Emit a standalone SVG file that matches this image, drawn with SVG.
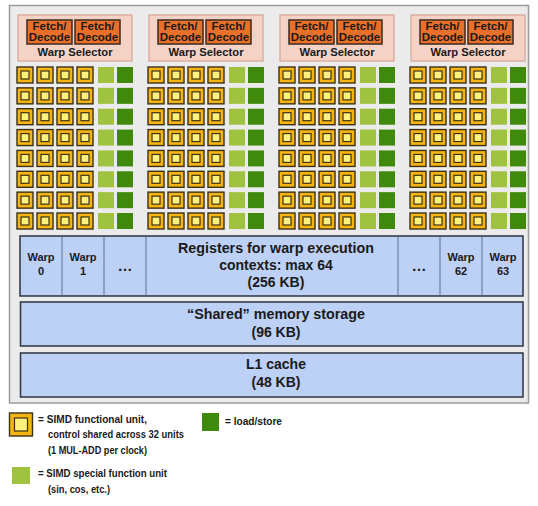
<svg xmlns="http://www.w3.org/2000/svg" xmlns:xlink="http://www.w3.org/1999/xlink" width="538" height="506" viewBox="0 0 538 506">
<style>
text{font-family:"Liberation Sans",Arial,sans-serif;font-weight:bold;fill:#1a1a1a}
.outer{fill:#ebebeb;stroke:#9c9c9c;stroke-width:1.5}
.ws{fill:#f4d2c6;stroke:#d9a393;stroke-width:1.2}
.fd{fill:#e8702a;stroke:#3a2a1f;stroke-width:1.5}
.alu-o{fill:#f5b412;stroke:#3b3118;stroke-width:1.4}
.alu-i{fill:#fff27c;stroke:#3b3118;stroke-width:1.2}
.sfu{fill:#9fc341}
.ldst{fill:#3f890d}
.blue{fill:#bdd0f5;stroke:#2e333c;stroke-width:1.5}
.div{stroke:#7d91b4;stroke-width:1.5}
.c{text-anchor:middle}
</style>
<defs>
<g id="alu"><rect class="alu-o" x="0" y="0" width="16" height="16"/><rect class="alu-i" x="4" y="4" width="8" height="8"/></g>
<g id="row">
<use xlink:href="#alu" x="0"/><use xlink:href="#alu" x="20"/><use xlink:href="#alu" x="40"/><use xlink:href="#alu" x="60"/>
<rect class="sfu" x="81" y="0" width="16" height="16"/>
<rect class="ldst" x="100" y="0" width="16" height="16"/>
</g>
<g id="grid">
<use xlink:href="#row" y="0"/><use xlink:href="#row" y="20.86"/><use xlink:href="#row" y="41.71"/><use xlink:href="#row" y="62.57"/>
<use xlink:href="#row" y="83.43"/><use xlink:href="#row" y="104.29"/><use xlink:href="#row" y="125.14"/><use xlink:href="#row" y="146"/>
</g>
<g id="selector">
<rect class="ws" x="0" y="0" width="114" height="46"/>
<rect class="fd" x="9" y="5" width="45" height="24"/>
<rect class="fd" x="57" y="5" width="45" height="24"/>
<text class="c" x="31.5" y="14.5" font-size="11.5">Fetch/</text>
<text class="c" x="31.5" y="26" font-size="11.5">Decode</text>
<text class="c" x="79.5" y="14.5" font-size="11.5">Fetch/</text>
<text class="c" x="79.5" y="26" font-size="11.5">Decode</text>
<text class="c" x="57" y="40.5" font-size="11.5" textLength="75" lengthAdjust="spacingAndGlyphs">Warp Selector</text>
</g>
</defs>

<g id="sm-outline"><rect class="outer" x="9.5" y="5.5" width="519" height="397.5"/></g>

<g id="core-0"><use xlink:href="#selector" x="18" y="15"/><use xlink:href="#grid" x="17" y="67"/></g>
<g id="core-1"><use xlink:href="#selector" x="149" y="15"/><use xlink:href="#grid" x="148" y="67"/></g>
<g id="core-2"><use xlink:href="#selector" x="280" y="15"/><use xlink:href="#grid" x="279" y="67"/></g>
<g id="core-3"><use xlink:href="#selector" x="411" y="15"/><use xlink:href="#grid" x="410" y="67"/></g>

<g id="registers">
<rect class="blue" x="20" y="236" width="503" height="60"/>
<line class="div" x1="62" y1="237" x2="62" y2="295"/>
<line class="div" x1="104" y1="237" x2="104" y2="295"/>
<line class="div" x1="146" y1="237" x2="146" y2="295"/>
<line class="div" x1="398" y1="237" x2="398" y2="295"/>
<line class="div" x1="440" y1="237" x2="440" y2="295"/>
<line class="div" x1="482" y1="237" x2="482" y2="295"/>
<text class="c" x="41" y="261" font-size="11">Warp</text>
<text class="c" x="41" y="275" font-size="11">0</text>
<text class="c" x="83" y="261" font-size="11">Warp</text>
<text class="c" x="83" y="275" font-size="11">1</text>
<text class="c" x="125" y="271" font-size="15">…</text>
<text class="c" x="276" y="253" font-size="14" textLength="196" lengthAdjust="spacingAndGlyphs">Registers for warp execution</text>
<text class="c" x="276" y="270" font-size="14">contexts: max 64</text>
<text class="c" x="276" y="287" font-size="14">(256 KB)</text>
<text class="c" x="419" y="271" font-size="15">…</text>
<text class="c" x="461" y="261" font-size="11">Warp</text>
<text class="c" x="461" y="275" font-size="11">62</text>
<text class="c" x="503" y="261" font-size="11">Warp</text>
<text class="c" x="503" y="275" font-size="11">63</text>
</g>

<g id="shared-memory">
<rect class="blue" x="20.5" y="302" width="502.5" height="44"/>
<text class="c" x="276" y="319" font-size="14" textLength="178" lengthAdjust="spacingAndGlyphs">“Shared” memory storage</text>
<text class="c" x="276" y="337" font-size="14">(96 KB)</text>
</g>

<g id="l1-cache">
<rect class="blue" x="20.5" y="353" width="502.5" height="44"/>
<text class="c" x="276" y="369" font-size="14">L1 cache</text>
<text class="c" x="276" y="387" font-size="14">(48 KB)</text>
</g>

<g id="connectors"></g>

<g id="legend-alu">
<rect class="alu-o" x="9.5" y="413" width="23" height="23"/>
<rect class="alu-i" x="14.5" y="418" width="13" height="13"/>
<text x="38" y="423" font-size="11.5" textLength="109" lengthAdjust="spacingAndGlyphs">= SIMD functional unit,</text>
<text x="48" y="438" font-size="11.5" textLength="136" lengthAdjust="spacingAndGlyphs">control shared across 32 units</text>
<text x="48" y="454" font-size="11.5" textLength="99" lengthAdjust="spacingAndGlyphs">(1 MUL-ADD per clock)</text>
</g>
<g id="legend-sfu">
<rect class="sfu" x="12" y="467" width="18" height="17"/>
<text x="38" y="477" font-size="11.5" textLength="129" lengthAdjust="spacingAndGlyphs">= SIMD special function unit</text>
<text x="48" y="493" font-size="11.5" textLength="62" lengthAdjust="spacingAndGlyphs">(sin, cos, etc.)</text>
</g>
<g id="legend-ldst">
<rect class="ldst" x="202" y="413" width="17" height="18"/>
<text x="225" y="425" font-size="11.5" textLength="57" lengthAdjust="spacingAndGlyphs">= load/store</text>
</g>
</svg>
